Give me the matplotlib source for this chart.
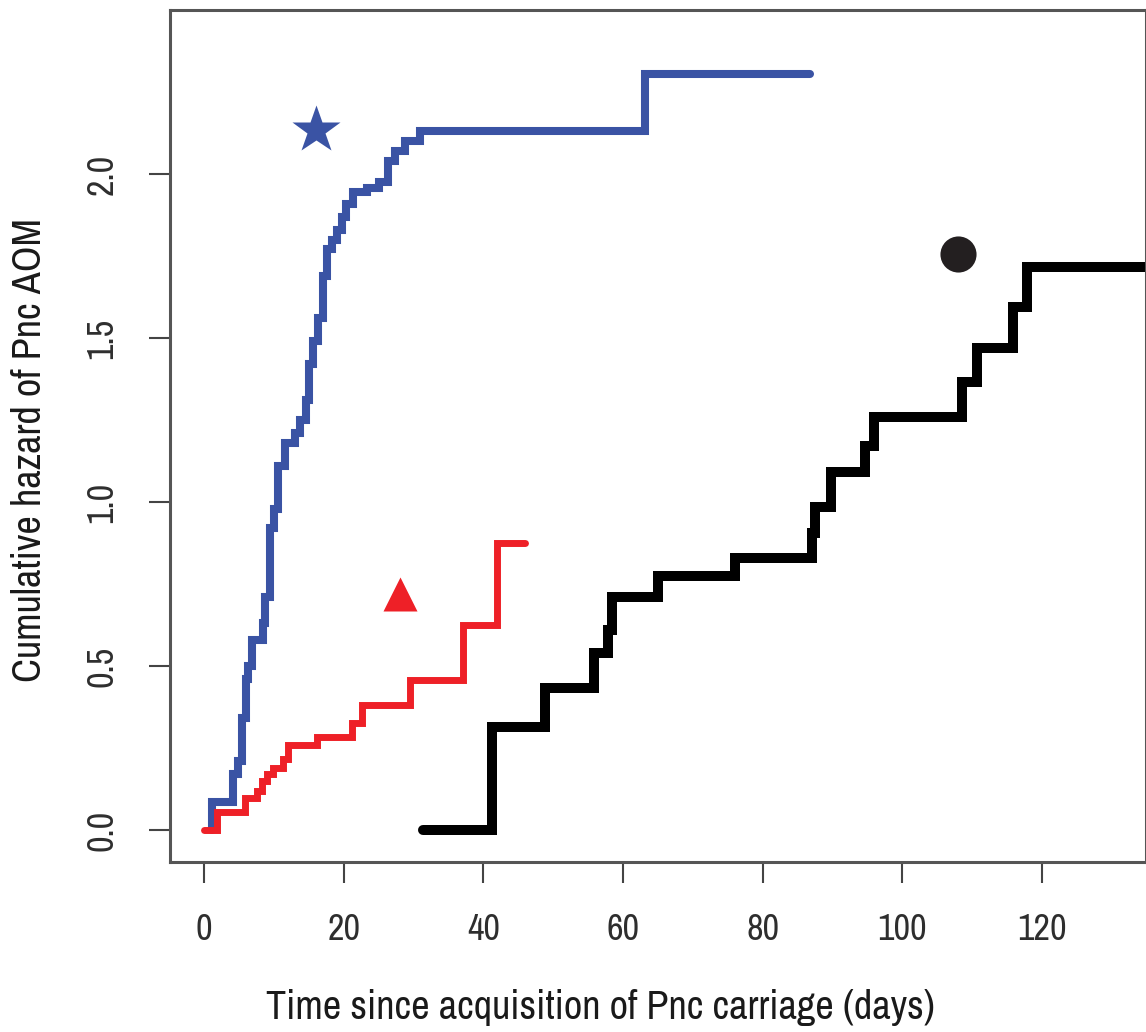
import matplotlib
matplotlib.use("Agg")
import matplotlib.pyplot as plt
from matplotlib import font_manager

# ---------------- data ----------------
blue_t = [1.1, 1.2, 4.2, 4.9, 5.4, 6.0, 6.3, 6.9, 8.4, 8.8, 9.4, 10.1, 10.6, 11.6,
          13.0, 13.7, 14.6, 15.0, 15.6, 16.3, 17.0, 17.6, 18.3, 19.0, 19.7, 20.4,
          21.3, 23.3, 25.1, 26.3, 27.3, 28.8, 30.9, 63.1]
blue_v = [0, 0.085, 0.17, 0.21, 0.34, 0.46, 0.50, 0.58, 0.63, 0.71, 0.92, 0.98,
          1.11, 1.18, 1.21, 1.25, 1.31, 1.42, 1.49, 1.56, 1.69, 1.77, 1.80, 1.83,
          1.87, 1.91, 1.945, 1.957, 1.975, 2.04, 2.07, 2.10, 2.13, 2.305]
blue_end = 86.7

red_t = [0, 1.8, 5.9, 7.6, 8.3, 9.0, 9.9, 11.3, 12.0, 16.2, 21.2, 22.6, 29.5,
         37.1, 41.9]
red_v = [0, 0.055, 0.097, 0.12, 0.15, 0.17, 0.19, 0.215, 0.26, 0.285, 0.325,
         0.38, 0.457, 0.625, 0.875]
red_end = 45.9

black_t = [31.3, 41.2, 48.8, 55.9, 57.8, 58.4, 65.0, 76.1, 87.0, 87.5, 89.8,
           94.6, 96.0, 108.5, 110.7, 115.9, 117.9]
black_v = [0, 0.314, 0.433, 0.54, 0.61, 0.71, 0.775, 0.83, 0.905, 0.985, 1.09,
           1.17, 1.26, 1.365, 1.47, 1.595, 1.715]
black_end = 140

# group symbols (x, y)
star_xy = (16.0, 2.134)
tri_xy = (28.0, 0.72)
dot_xy = (107.9, 1.756)

x_ticks = [0, 20, 40, 60, 80, 100, 120]
y_ticks = [0.0, 0.5, 1.0, 1.5, 2.0]
y_ticklabels = ["0.0", "0.5", "1.0", "1.5", "2.0"]
x_label = "Time since acquisition of Pnc carriage (days)"
y_label = "Cumulative hazard of Pnc AOM"

BLUE = "#3A53A4"
RED = "#EE2027"
BLACK = "#000000"

# ---------------- fonts: prefer a narrow / condensed sans ----------------
narrow_name = None
narrow_stretch = "normal"
for f in font_manager.fontManager.ttflist:
    nm = f.name
    if "Narrow" in nm or "Condensed" in nm:
        narrow_name = nm
        break
if narrow_name is None:
    for f in font_manager.fontManager.ttflist:
        if str(f.stretch) in ("condensed", "semi-condensed", "extra-condensed") or \
                (isinstance(f.stretch, int) and f.stretch < 500):
            narrow_name = f.name
            narrow_stretch = f.stretch
            break

if narrow_name is not None:
    plt.rcParams["font.family"] = [narrow_name, "Liberation Sans", "DejaVu Sans"]
    plt.rcParams["font.stretch"] = narrow_stretch
    lab_size, tick_size = 29, 26
else:
    plt.rcParams["font.family"] = ["Liberation Sans", "DejaVu Sans"]
    lab_size, tick_size = 24.5, 23

W, H = 1146, 1032
fig = plt.figure(figsize=(W / 100, H / 100), dpi=100)
fig.patch.set_facecolor("white")
ax = fig.add_axes([170 / W, 1 - 862 / H, (1145.5 - 170) / W, (862 - 10) / H])

def step_line(t, v, end, color, lw):
    ax.step(list(t) + [end], list(v) + [v[-1]], where="post", color=color,
            lw=lw, solid_capstyle="round", solid_joinstyle="miter")

step_line(black_t, black_v, black_end, BLACK, 7.2)
step_line(blue_t, blue_v, blue_end, BLUE, 5.8)
step_line(red_t, red_v, red_end, RED, 5.0)

ax.plot(*star_xy, marker="*", ms=36, color=BLUE, mec="none")
ax.plot(*tri_xy, marker="^", ms=24, color=RED, mec="none")
ax.plot(*dot_xy, marker="o", ms=26, color="#231F20", mec="none")

ax.set_xlim(-4.86, 134.8)
ax.set_ylim(-0.0976, 2.5)

for s in ax.spines.values():
    s.set_color("#555555")
    s.set_linewidth(2.2)

ax.set_xticks(x_ticks)
ax.set_xticklabels([str(v) for v in x_ticks])
ax.set_yticks(y_ticks)
ax.set_yticklabels(y_ticklabels, rotation=90, va="center")
ax.tick_params(axis="both", length=15, width=1.5, color="#444444",
               labelcolor="#2e2e2e", labelsize=tick_size)
ax.tick_params(axis="x", pad=22)
ax.tick_params(axis="y", pad=22)
for lbl in ax.get_xticklabels() + ax.get_yticklabels():
    lbl.set_fontweight("bold")

fig.text(600 / W, 1 - 1007 / H, x_label, ha="center", va="center",
         fontsize=lab_size, color="#1a1a1a")
fig.text(30 / W, 1 - 450 / H, y_label, ha="center", va="center",
         rotation=90, fontsize=lab_size, color="#1a1a1a")

fig.savefig("out.png", dpi=100, facecolor="white")
